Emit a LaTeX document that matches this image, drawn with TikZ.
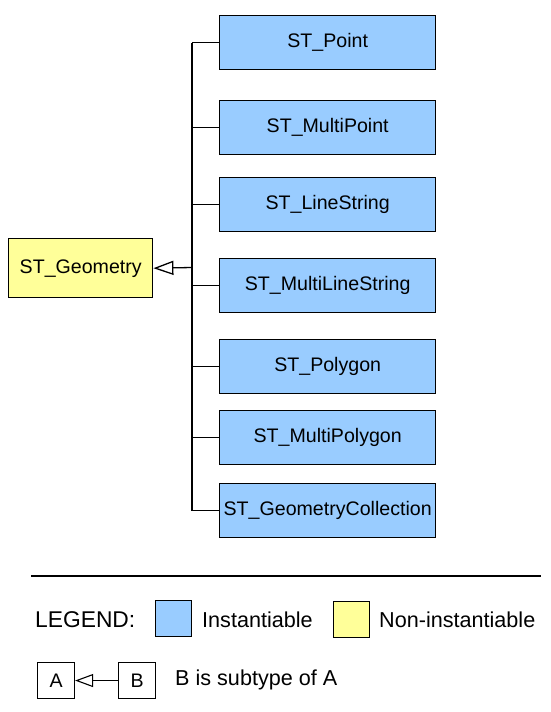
\documentclass[tikz,border=0pt]{standalone}
\usepackage{fontspec}
\setmainfont{Liberation Sans}
\usetikzlibrary{arrows.meta}
\definecolor{instblue}{HTML}{99CCFF}
\definecolor{noninst}{HTML}{FFFF99}
\begin{document}
\begin{tikzpicture}[x=1pt,y=-1pt,
  cls/.style={draw=black, line width=1.4pt, fill=instblue, minimum width=216pt, minimum height=54pt, inner sep=0pt, anchor=north west, font=\fontsize{19.6}{22}\selectfont},
  abs/.style={cls, fill=noninst, minimum width=144pt, minimum height=59pt},
  conn/.style={draw=black, line width=1.3pt},
  gen/.style={conn, -{Triangle[open, length=20pt, width=14pt, line width=1.3pt]}},
  smallgen/.style={conn, line width=1.1pt, -{Triangle[open, length=18pt, width=13pt, line width=1.1pt]}},
  swatch/.style={draw=black, line width=1.3pt, minimum width=36pt, minimum height=36pt, inner sep=0pt, anchor=north west},
  lbox/.style={draw=black, line width=1.1pt, fill=white, minimum width=37pt, minimum height=36pt, inner sep=0pt, anchor=north west, font=\fontsize{19.6}{22}\selectfont},
  ltext/.style={inner sep=0pt, anchor=west, font=\fontsize{21.6}{24}\selectfont}]
\useasboundingbox[fill=white] (0,0) rectangle (550,712);

\node[cls] (p)   at (219,15)  {ST\_Point};
\node[cls] (mp)  at (219,100) {ST\_MultiPoint};
\node[cls] (ls)  at (219,177) {ST\_LineString};
\node[cls] (mls) at (219,258) {ST\_MultiLineString};
\node[cls] (pg)  at (219,339) {ST\_Polygon};
\node[cls] (mpg) at (219,410) {ST\_MultiPolygon};
\node[cls] (gc)  at (219,483) {ST\_GeometryCollection};
\node[abs] (geo) at (8,238) {ST\_Geometry};

\coordinate (hub) at (192,267.5);
\draw[conn] (hub |- p.west) -- (hub |- gc.west);
\foreach \n in {p,mp,ls,mls,pg,mpg,gc}{
  \draw[conn] (hub |- \n.west) -- (\n.west);
}
\draw[gen] (hub) -- (geo.east);

% legend
\coordinate (l1) at (31,576);
\coordinate (l2) at (541,576);
\draw[line width=2pt] (l1) -- (l2);
\node[ltext, font=\fontsize{22.8}{25}\selectfont] (leg) at (35,620) {LEGEND:};
\node[swatch, fill=instblue] (sb) at (155,600) {};
\node[ltext] (ti) at (202,620) {Instantiable};
\node[swatch, fill=noninst] (sy) at (333,601) {};
\node[ltext] (tn) at (379,620) {Non-instantiable};

\node[lbox] (a) at (37,662) {A};
\node[lbox] (b) at (118,662) {B};
\draw[smallgen] (b.west) -- (a.east);
\node[ltext] (ts) at (175,680) {B is subtype of A};
\end{tikzpicture}
\end{document}
